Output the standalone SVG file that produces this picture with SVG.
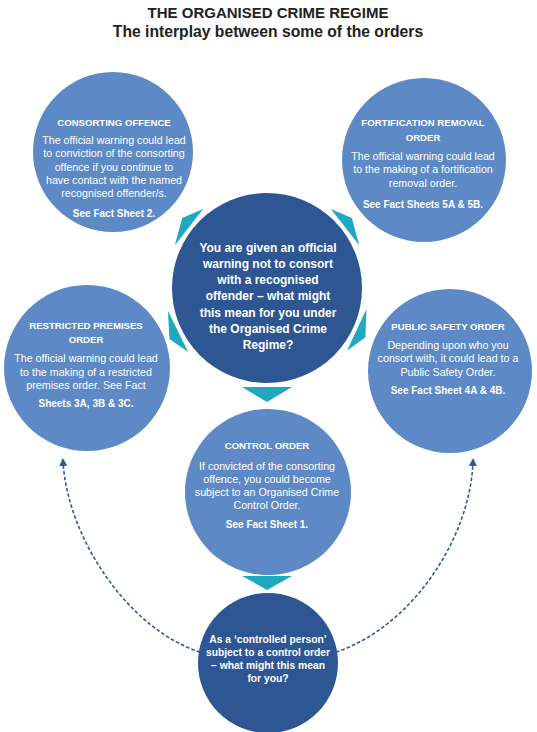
<svg xmlns="http://www.w3.org/2000/svg" width="537" height="732" viewBox="0 0 537 732">
<defs>
<style>
.light{fill:#5d89c6}
.dark{fill:#2d5693}
.tri{fill:#1fa9c1}
.dash{fill:none;stroke:#2a5a96;stroke-width:1.6;stroke-dasharray:3.5 2.2}
text{font-family:"Liberation Sans",Arial,sans-serif;fill:#fff;text-anchor:middle}
.title{fill:#222;font-weight:bold}
.h{font-weight:bold;font-size:9.6px}
.b{font-size:10.7px}
.s{font-weight:bold;font-size:10px}
.c{font-weight:bold;font-size:12px}
.q{font-weight:bold;font-size:10.3px}
</style>
<marker id="ah" viewBox="0 0 10 10" refX="5" refY="5" markerWidth="5" markerHeight="5" orient="auto">
<path d="M0,0 L10,5 L0,10 z" fill="#2a5a96"/>
</marker>
</defs>
<rect width="537" height="732" fill="#fff"/>
<g id="title">
<text class="title" x="268" y="18" font-size="15">THE ORGANISED CRIME REGIME</text>
<text class="title" x="268" y="37" font-size="15.7">The interplay between some of the orders</text>
</g>
<g id="connectors">
<path class="dash" d="M200,652 C130,630 68,540 63,462" marker-end="url(#ah)"/>
<path class="dash" d="M336,652 C410,628 470,540 473,462" marker-end="url(#ah)"/>
<g transform="translate(267,288)">
<polygon class="tri" points="-25,99 25,99 0,114"/>
<polygon class="tri" transform="rotate(128)" points="-23,99 23,99 -3,110"/>
<polygon class="tri" transform="rotate(-128)" points="-23,99 23,99 3,110"/>
<polygon class="tri" transform="rotate(64)" points="-23,99 23,99 3,110"/>
<polygon class="tri" transform="rotate(-65)" points="-23,99 23,99 -3,110"/>
</g>
<polygon class="tri" points="242,576 292,576 267,590"/>
</g>
<g id="consorting">
<circle class="light" cx="113" cy="152" r="80"/>
<text class="h" x="114" y="126">CONSORTING OFFENCE</text>
<text class="b" x="114" y="144">The official warning could lead</text>
<text class="b" x="114" y="157">to conviction of the consorting</text>
<text class="b" x="114" y="171">offence if you continue to</text>
<text class="b" x="114" y="184">have contact with the named</text>
<text class="b" x="114" y="197">recognised offender/s.</text>
<text class="s" x="114" y="217">See Fact Sheet 2.</text>
</g>
<g id="fortification">
<circle class="light" cx="424" cy="160" r="82"/>
<text class="h" x="423" y="126">FORTIFICATION REMOVAL</text>
<text class="h" x="423" y="141">ORDER</text>
<text class="b" x="423" y="160">The official warning could lead</text>
<text class="b" x="423" y="173">to the making of a fortification</text>
<text class="b" x="423" y="187">removal order.</text>
<text class="s" x="423" y="208">See Fact Sheets 5A &amp; 5B.</text>
</g>
<g id="restricted">
<circle class="light" cx="87" cy="368" r="83"/>
<text class="h" x="86" y="329">RESTRICTED PREMISES</text>
<text class="h" x="86" y="343">ORDER</text>
<text class="b" x="86" y="362">The official warning could lead</text>
<text class="b" x="86" y="376">to the making of a restricted</text>
<text class="b" x="86" y="389">premises order. See Fact</text>
<text class="s" x="86" y="407">Sheets 3A, 3B &amp; 3C.</text>
</g>
<g id="public-safety">
<circle class="light" cx="450" cy="371" r="82"/>
<text class="h" x="448" y="330">PUBLIC SAFETY ORDER</text>
<text class="b" x="448" y="349">Depending upon who you</text>
<text class="b" x="448" y="362">consort with, it could lead to a</text>
<text class="b" x="448" y="376">Public Safety Order.</text>
<text class="s" x="448" y="394">See Fact Sheet 4A &amp; 4B.</text>
</g>
<g id="central">
<circle class="dark" cx="267" cy="288" r="95"/>
<text class="c" x="268" y="252">You are given an official</text>
<text class="c" x="268" y="268">warning not to consort</text>
<text class="c" x="268" y="284">with a recognised</text>
<text class="c" x="268" y="300">offender – what might</text>
<text class="c" x="268" y="317">this mean for you under</text>
<text class="c" x="268" y="333">the Organised Crime</text>
<text class="c" x="268" y="349">Regime?</text>
</g>
<g id="control-order">
<circle class="light" cx="268" cy="492" r="83"/>
<text class="h" x="267" y="449">CONTROL ORDER</text>
<text class="b" x="267" y="470">If convicted of the consorting</text>
<text class="b" x="267" y="483">offence, you could become</text>
<text class="b" x="267" y="496">subject to an Organised Crime</text>
<text class="b" x="267" y="509">Control Order.</text>
<text class="s" x="267" y="528">See Fact Sheet 1.</text>
</g>
<g id="controlled-person">
<circle class="dark" cx="268" cy="663" r="70"/>
<text class="q" x="268" y="643">As a ‘controlled person’</text>
<text class="q" x="268" y="656">subject to a control order</text>
<text class="q" x="268" y="669">– what might this mean</text>
<text class="q" x="268" y="682">for you?</text>
</g>
</svg>
